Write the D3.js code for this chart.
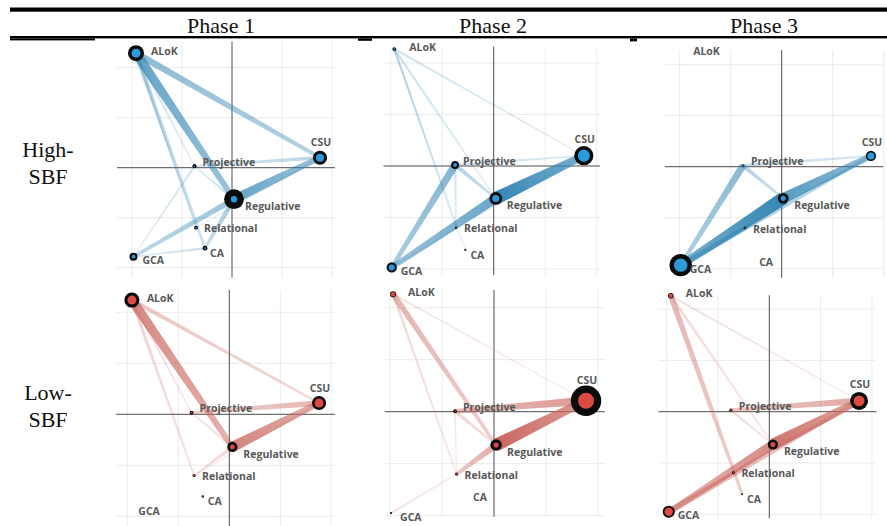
<!DOCTYPE html>
<html>
<head>
<meta charset="utf-8">
<script src="https://cdn.jsdelivr.net/npm/d3@7"></script>
<style>
  body { margin: 0; background: #fff; }
  text.hdr { font-family: "Liberation Serif", "Times New Roman", serif; font-size: 22px; fill: #111; }
  text.code { font-family: "Open Sans", sans-serif; font-weight: 700; font-size: 10.5px; fill: #585858; }
</style>
</head>
<body>
<script>
// table headings
const phases = ["Phase 1", "Phase 2", "Phase 3"];
const groups = [["High-", "SBF"], ["Low-", "SBF"]];

// codes (network nodes)
const codes = ["ALoK", "CSU", "Projective", "Regulative", "Relational", "CA", "GCA"];

// node positions in ENA units, same order as codes
const posHigh1 = [[-1.92, 2.29], [1.76, 0.20], [-0.75, 0.03], [0.04, -0.63], [-0.72, -1.20], [-0.54, -1.61], [-1.97, -1.78]];
const posHigh2 = [[-1.93, 2.27], [1.75, 0.20], [-0.75, 0.02], [0.04, -0.63], [-0.73, -1.20], [-0.55, -1.63], [-1.98, -1.97]];
const posHigh3 = [[-2.03, 2.23], [1.75, 0.21], [-0.76, 0.02], [0.03, -0.62], [-0.72, -1.20], [-0.54, -1.77], [-1.98, -1.93]];
const posLow1  = [[-1.91, 2.24], [1.76, 0.22], [-0.74, 0.03], [0.06, -0.64], [-0.69, -1.20], [-0.52, -1.61], [-1.96, -1.83]];
const posLow2  = [[-1.94, 2.26], [1.77, 0.21], [-0.75, 0.01], [0.04, -0.64], [-0.72, -1.20], [-0.50, -1.56], [-1.98, -1.95]];
const posLow3  = [[-1.92, 2.26], [1.75, 0.21], [-0.75, 0.03], [0.07, -0.64], [-0.70, -1.19], [-0.53, -1.61], [-1.96, -1.95]];

// node weights [outer, inner], same order as codes
const nodesHigh1 = [[0.50, 0.28], [0.44, 0.25], [0.13, 0.05], [0.62, 0.20], [0.12, 0.05], [0.15, 0.06], [0.25, 0.12]];
const nodesHigh2 = [[0.12, 0.06], [0.60, 0.38], [0.25, 0.12], [0.40, 0.22], [0.08, 0.04], [0.07, 0.03], [0.32, 0.19]];
const nodesHigh3 = [[0.00, 0.00], [0.32, 0.22], [0.09, 0.05], [0.34, 0.16], [0.09, 0.04], [0.00, 0.00], [0.70, 0.42]];
const nodesLow1  = [[0.47, 0.28], [0.44, 0.28], [0.12, 0.05], [0.32, 0.15], [0.10, 0.06], [0.08, 0.04], [0.00, 0.00]];
const nodesLow2  = [[0.19, 0.14], [0.95, 0.50], [0.12, 0.05], [0.36, 0.16], [0.10, 0.05], [0.00, 0.00], [0.07, 0.03]];
const nodesLow3  = [[0.17, 0.12], [0.56, 0.34], [0.10, 0.05], [0.32, 0.16], [0.09, 0.04], [0.06, 0.03], [0.38, 0.26]];

// edges [wide end, narrow end, weight]
const edgesHigh1 = [
  ["ALoK", "Regulative", 0.72], ["Regulative", "CSU", 0.72], ["ALoK", "CSU", 0.50],
  ["Regulative", "GCA", 0.42], ["Regulative", "CA", 0.36], ["ALoK", "CA", 0.30],
  ["CSU", "Projective", 0.24], ["ALoK", "Projective", 0.14], ["ALoK", "Relational", 0.12],
  ["Regulative", "Projective", 0.15], ["Projective", "GCA", 0.12], ["CA", "GCA", 0.14],
  ["CSU", "Relational", 0.08]
];
const edgesHigh2 = [
  ["Regulative", "CSU", 1.00], ["Regulative", "GCA", 0.70], ["Projective", "GCA", 0.56],
  ["Projective", "Regulative", 0.28], ["ALoK", "CSU", 0.12], ["ALoK", "Regulative", 0.14],
  ["ALoK", "Relational", 0.12], ["ALoK", "CA", 0.10], ["Projective", "CSU", 0.15],
  ["Projective", "Relational", 0.14], ["CSU", "Relational", 0.08], ["GCA", "Relational", 0.10]
];
const edgesHigh3 = [
  ["Regulative", "GCA", 1.00], ["Regulative", "CSU", 0.80], ["GCA", "CSU", 0.40],
  ["Projective", "GCA", 0.52], ["Projective", "Regulative", 0.28], ["Projective", "CSU", 0.20],
  ["Relational", "GCA", 0.20]
];
const edgesLow1 = [
  ["ALoK", "Regulative", 0.74], ["Regulative", "CSU", 0.78], ["CSU", "Projective", 0.40],
  ["ALoK", "CSU", 0.28], ["ALoK", "Relational", 0.20], ["ALoK", "Projective", 0.14],
  ["Regulative", "Relational", 0.20], ["Regulative", "Projective", 0.14], ["CSU", "Relational", 0.10]
];
const edgesLow2 = [
  ["Regulative", "CSU", 1.00], ["CSU", "Projective", 0.62], ["ALoK", "Regulative", 0.42],
  ["Regulative", "Relational", 0.48], ["Projective", "Regulative", 0.20], ["ALoK", "Relational", 0.15],
  ["ALoK", "CSU", 0.08], ["GCA", "Relational", 0.10], ["Projective", "Relational", 0.08]
];
const edgesLow3 = [
  ["Regulative", "CSU", 0.90], ["Regulative", "GCA", 0.70], ["GCA", "CSU", 0.45],
  ["ALoK", "CA", 0.40], ["CSU", "Projective", 0.50], ["ALoK", "CSU", 0.10],
  ["ALoK", "Regulative", 0.15], ["Projective", "Regulative", 0.15], ["Relational", "GCA", 0.12],
  ["Relational", "Regulative", 0.12]
];

const W = 887, H = 526;
const svg = d3.select("body").append("svg").attr("width", W).attr("height", H);
const defs = svg.append("defs");

// table rules
svg.append("rect").attr("x", 10).attr("y", 7.5).attr("width", W - 10).attr("height", 4.2).attr("fill", "#000");
svg.append("rect").attr("x", 10).attr("y", 36).attr("width", W - 10).attr("height", 2.4).attr("fill", "#000");
svg.append("rect").attr("x", 10).attr("y", 38.4).attr("width", 85).attr("height", 2).attr("fill", "#000");
svg.append("rect").attr("x", 358).attr("y", 38.4).attr("width", 14).attr("height", 2.4).attr("fill", "#000");
svg.append("rect").attr("x", 630).attr("y", 38.4).attr("width", 7).attr("height", 3).attr("fill", "#000");

const colX = [221, 493, 764];
svg.selectAll("text.phase").data(phases).enter().append("text")
  .attr("class", "hdr phase")
  .attr("x", (d, i) => colX[i]).attr("y", 32.5)
  .attr("text-anchor", "middle")
  .text(d => d);

const rowY = [[156.5, 183.5], [399.5, 426.5]];
groups.forEach(function (g, gi) {
  g.forEach(function (line, li) {
    svg.append("text").attr("class", "hdr")
      .attr("x", 48).attr("y", rowY[gi][li])
      .attr("text-anchor", "middle")
      .text(line);
  });
});

// per panel placement: origin, pixels per unit, axis extent in units
const panels = [
  { pos: posHigh1, nodes: nodesHigh1, edges: edgesHigh1, hue: "blue", cx: 232,   cy: 167.7, unit: 50,   xr: [-2.30, 2.06], yr: [-2.20, 2.52] },
  { pos: posHigh2, nodes: nodesHigh2, edges: edgesHigh2, hue: "blue", cx: 493.7, cy: 166,   unit: 51.5, xr: [-2.14, 2.06], yr: [-2.12, 2.32] },
  { pos: posHigh3, nodes: nodesHigh3, edges: edgesHigh3, hue: "blue", cx: 781.7, cy: 166.7, unit: 51,   xr: [-2.29, 1.99], yr: [-2.18, 2.29] },
  { pos: posLow1,  nodes: nodesLow1,  edges: edgesLow1,  hue: "red",  cx: 229.3, cy: 414.3, unit: 51,   xr: [-2.22, 2.07], yr: [-2.19, 2.44] },
  { pos: posLow2,  nodes: nodesLow2,  edges: edgesLow2,  hue: "red",  cx: 494,   cy: 411.7, unit: 52,   xr: [-2.10, 2.13], yr: [-2.02, 2.34] },
  { pos: posLow3,  nodes: nodesLow3,  edges: edgesLow3,  hue: "red",  cx: 769.3, cy: 411.7, unit: 51.3, xr: [-2.16, 2.09], yr: [-2.08, 2.27] }
];

const palette = {
  blue: { edge: "#3486b4", node: "#2b9ad8" },
  red:  { edge: "#c9675f", node: "#dc4a44" }
};

// label offsets in px from node centre
const labelOff = {
  ALoK: [15, -2, "start"], CSU: [1, null, "middle"], Projective: [8, -4, "start"],
  Regulative: [11, 7, "start"], Relational: [8, 1, "start"], CA: [5, 5, "start"], GCA: [9, 4, "start"]
};

const rScale = d3.scaleLinear().domain([0, 1]).range([0, 16]);
const wScale = d3.scaleLinear().domain([0, 1]).range([0.8, 13]);
const oScale = d3.scaleLinear().domain([0, 1]).range([0.12, 1]);

panels.forEach(function (p, pi) {
  const x = d3.scaleLinear().domain([0, 1]).range([p.cx, p.cx + p.unit]);
  const y = d3.scaleLinear().domain([0, 1]).range([p.cy, p.cy - p.unit]);
  const g = svg.append("g");
  const col = palette[p.hue];

  // grid
  const ticks = [-2, -1, 1, 2];
  g.selectAll("line.gx").data(ticks.filter(t => t >= p.xr[0] - 0.05 && t <= p.xr[1] + 0.05)).enter().append("line")
    .attr("x1", d => x(d)).attr("x2", d => x(d))
    .attr("y1", y(p.yr[1])).attr("y2", y(p.yr[0]))
    .attr("stroke", "#ebebeb").attr("stroke-width", 1);
  g.selectAll("line.gy").data(ticks.filter(t => t >= p.yr[0] - 0.05 && t <= p.yr[1] + 0.05)).enter().append("line")
    .attr("y1", d => y(d)).attr("y2", d => y(d))
    .attr("x1", x(p.xr[0])).attr("x2", x(p.xr[1]))
    .attr("stroke", "#ebebeb").attr("stroke-width", 1);

  // axes
  g.append("line").attr("x1", x(p.xr[0])).attr("x2", x(p.xr[1])).attr("y1", y(0)).attr("y2", y(0))
    .attr("stroke", "#4d4d4d").attr("stroke-width", 1);
  g.append("line").attr("x1", x(0)).attr("x2", x(0)).attr("y1", y(p.yr[1])).attr("y2", y(p.yr[0]))
    .attr("stroke", "#4d4d4d").attr("stroke-width", 1);

  const at = name => p.pos[codes.indexOf(name)];

  // edges, weakest first
  const edges = p.edges.slice().sort((a, b) => a[2] - b[2]);
  edges.forEach(function (e, ei) {
    const a = at(e[0]), b = at(e[1]);
    const x0 = x(a[0]), y0 = y(a[1]), x1 = x(b[0]), y1 = y(b[1]);
    const len = Math.hypot(x1 - x0, y1 - y0);
    const nx = -(y1 - y0) / len, ny = (x1 - x0) / len;
    const w0 = wScale(e[2]) / 2, w1 = wScale(e[2]) * 0.55 / 2;
    const pts = [[x0 + nx * w0, y0 + ny * w0], [x1 + nx * w1, y1 + ny * w1],
                 [x1 - nx * w1, y1 - ny * w1], [x0 - nx * w0, y0 - ny * w0]];
    const id = "gr" + pi + "_" + ei;
    const gr = defs.append("linearGradient").attr("id", id)
      .attr("gradientUnits", "userSpaceOnUse")
      .attr("x1", x0).attr("y1", y0).attr("x2", x1).attr("y2", y1);
    gr.append("stop").attr("offset", 0).attr("stop-color", col.edge).attr("stop-opacity", oScale(e[2]));
    gr.append("stop").attr("offset", 1).attr("stop-color", col.edge).attr("stop-opacity", oScale(e[2]) * 0.65);
    g.append("path")
      .attr("d", d3.line()(pts) + "Z")
      .attr("fill", "url(#" + id + ")");
  });

  // nodes
  codes.forEach(function (c, ci) {
    const n = p.nodes[ci];
    if (n[0] <= 0) return;
    const px = x(p.pos[ci][0]), py = y(p.pos[ci][1]);
    g.append("circle").attr("cx", px).attr("cy", py).attr("r", rScale(n[0])).attr("fill", "#0b0b0b");
    g.append("circle").attr("cx", px).attr("cy", py).attr("r", rScale(n[1])).attr("fill", col.node);
  });

  // labels
  codes.forEach(function (c, ci) {
    const off = labelOff[c];
    const r = rScale(p.nodes[ci][0]);
    const dy = off[1] === null ? -(10 + 0.7 * r) : off[1];
    g.append("text").attr("class", "code")
      .attr("x", x(p.pos[ci][0]) + off[0])
      .attr("y", y(p.pos[ci][1]) + dy)
      .attr("dy", "0.35em")
      .attr("text-anchor", off[2])
      .text(c);
  });
});
</script>
</body>
</html>
